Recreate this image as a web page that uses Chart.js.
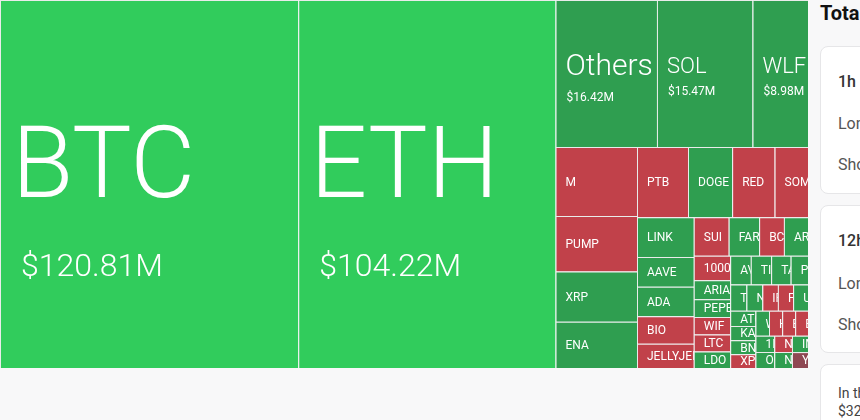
<!DOCTYPE html>
<html>
<head>
<meta charset="utf-8">
<script src="https://cdn.jsdelivr.net/npm/chart.js@4.4.1/dist/chart.umd.min.js"></script>
<style>
    body { margin: 0; width: 860px; height: 420px; overflow: hidden; background: #f8f8f9; font-family: Roboto, sans-serif; position: relative; }
    #wrap { position: absolute; left: 0; top: 0; width: 808px; height: 368px; }
    #side { position: absolute; left: 808px; top: 0; width: 52px; height: 420px; overflow: hidden; }
    .ttl { position: absolute; left: 12px; top: 2px; font-size: 20px; font-weight: 700; color: #111; white-space: nowrap; line-height: 22px; }
    .card { position: absolute; left: 12px; width: 300px; background: #fff; border: 1px solid #e6e6e8; border-radius: 8px; }
    .t { position: absolute; left: 17px; white-space: nowrap; line-height: 20px; font-size: 16px; color: #555; }
    .h { font-weight: 500; color: #333; }
    .s { font-size: 14px; color: #444; }
</style>
</head>
<body>
<div id="wrap"><canvas id="MapChart"></canvas></div>
<div id="side">
    <div class="ttl">Total Liquidations</div>
    <div class="card" style="top:46px;height:146px">
        <div class="t h" style="top:25px">1h</div>
        <div class="t" style="top:67px">Long</div>
        <div class="t" style="top:108px">Short</div>
    </div>
    <div class="card" style="top:205px;height:146px">
        <div class="t h" style="top:25px">12h</div>
        <div class="t" style="top:68px">Long</div>
        <div class="t" style="top:109px">Short</div>
    </div>
    <div class="card" style="top:364px;height:120px">
        <div class="t s" style="top:18px">In the past 24 hours</div>
        <div class="t s" style="top:36px" id="total"></div>
    </div>
</div>
<script>
// liquidations per coin, $M (largest first)
const coins = ['BTC', 'ETH', 'Others', 'SOL', 'WLFI', 'M', 'PUMP', 'XRP', 'ENA', 'PTB', 'DOGE', 'RED', 'SOMI',
    'LINK', 'AAVE', 'ADA', 'BIO', 'JELLYJELLY', 'SUI', 'FARTCOIN', 'BCH', 'ARB', '1000BONK', 'ARIA', 'PEPE', 'WIF',
    'LTC', 'LDO', 'AVAX', 'TIA', 'TAO', 'PENGU', 'TRX', 'NEAR', 'IP', 'FIL', 'UNI', 'ATOM', 'KAITO', 'BNB', 'XPL',
    'WLD', 'HYPE', 'ETC', 'BERA', '1INCH', 'OP', 'NEIRO', 'NMR', 'IMX', 'YGG'];
const liqValues = [120.81, 104.22, 16.42, 15.47, 8.98, 6.17, 4.98, 4.52, 4.14, 3.94, 3.41, 3.28, 2.58,
    2.48, 1.86, 1.85, 1.72, 1.51, 1.48, 1.29, 1.05, 1.02, 0.98, 0.76, 0.72, 0.70,
    0.68, 0.66, 0.655, 0.645, 0.62, 0.55, 0.47, 0.46, 0.45, 0.44, 0.43, 0.42, 0.40, 0.39, 0.38,
    0.37, 0.36, 0.355, 0.35, 0.34, 0.33, 0.32, 0.31, 0.29, 0.28];
// 2 strong long, 1 long, -1 short, -2 strong short
const sentiment = [2, 2, 1, 1, 1, -1, -1, 1, 1, -1, 1, -1, -1,
    1, 1, 1, -1, -1, -1, 1, -1, 1, -1, 1, 1, -1,
    -1, 1, 1, 1, 1, 1, 1, 1, -1, -1, 1, 1, 1, 1, -1,
    1, -1, -1, -1, 1, 1, -1, 1, 1, -2];

const colors = { '2': '#31cc5c', '1': '#2f9e50', '-1': '#c1414a', '-2': '#8f4853' };

// squarified layout with golden-ratio target (same rule echarts uses)
function worst(row, area, fixed, ratio) {
    let max = 0, min = Infinity;
    row.forEach(r => { if (r.area) { min = Math.min(min, r.area); max = Math.max(max, r.area); } });
    const sq = area * area, f = fixed * fixed * ratio;
    return sq ? Math.max(f * max / sq, sq / (f * min)) : Infinity;
}
function place(row, area, fixed, rect, flush, out) {
    const horiz = fixed === rect.width;
    let last = horiz ? rect.x : rect.y;
    let other = fixed ? area / fixed : 0;
    const avail = horiz ? rect.height : rect.width;
    if (flush || other > avail) other = avail;
    const end = horiz ? rect.x + rect.width : rect.y + rect.height;
    row.forEach((r, n) => {
        const step = other ? r.area / other : 0;
        const remain = end - last;
        const len = (n === row.length - 1 || remain < step) ? remain : step;
        out[r.i] = horiz ? { x: last, y: rect.y, w: len, h: other } : { x: rect.x, y: last, w: other, h: len };
        last += len;
    });
    if (horiz) { rect.y += other; rect.height -= other; } else { rect.x += other; rect.width -= other; }
}
function squarify(vals, W, H, ratio) {
    const total = vals.reduce((a, b) => a + b, 0);
    const items = vals.map((v, i) => ({ i: i, area: v / total * W * H })).sort((a, b) => b.area - a.area);
    const rect = { x: 0, y: 0, width: W, height: H };
    const out = [];
    let fixed = Math.min(W, H), best = Infinity, row = [], rowArea = 0;
    for (let k = 0; k < items.length;) {
        row.push(items[k]);
        rowArea += items[k].area;
        const score = worst(row, rowArea, fixed, ratio);
        if (score <= best) {
            k++;
            best = score;
        } else {
            rowArea -= row.pop().area;
            place(row, rowArea, fixed, rect, false, out);
            fixed = Math.min(rect.width, rect.height);
            row = [];
            rowArea = 0;
            best = Infinity;
        }
    }
    if (row.length) place(row, rowArea, fixed, rect, true, out);
    return out;
}

class TreemapController extends Chart.DatasetController {
    update(mode) {
        const meta = this._cachedMeta;
        this.updateElements(meta.data, 0, meta.data.length, mode);
    }
    updateElements(rects, start, count, mode) {
        const xs = this._cachedMeta.xScale, ys = this._cachedMeta.yScale;
        const boxes = squarify(this.getDataset().data, xs.width, ys.height, (1 + Math.sqrt(5)) / 2);
        for (let i = start; i < start + count; i++) {
            const b = boxes[i];
            const l = xs.getPixelForValue(b.x / xs.width * 100);
            const r = xs.getPixelForValue((b.x + b.w) / xs.width * 100);
            const t = ys.getPixelForValue(b.y / ys.height * 100);
            const bt = ys.getPixelForValue((b.y + b.h) / ys.height * 100);
            this.updateElement(rects[i], i, {
                x: (l + r) / 2, y: t, base: bt, width: r - l, height: bt - t,
                horizontal: false, inflateAmount: 0, enableBorderRadius: false,
                borderSkipped: { top: false, bottom: false, left: false, right: false },
                options: this.resolveDataElementOptions(i, mode)
            }, mode);
        }
    }
    draw() {
        super.draw();
        const ctx = this.chart.ctx;
        this._cachedMeta.data.forEach((el, i) => {
            const l = el.x - el.width / 2, t = el.y, w = el.width, h = el.base - el.y;
            const c = t + h / 2;
            const name = coins[i];
            const value = '$' + liqValues[i].toFixed(2) + 'M';
            ctx.save();
            ctx.beginPath();
            ctx.rect(l, t, w, h);
            ctx.clip();
            ctx.fillStyle = '#fff';
            ctx.textAlign = 'left';
            ctx.textBaseline = 'alphabetic';
            if (w * h > 50000) {
                ctx.font = '300 100px Roboto';
                ctx.fillText(name, l + 12, c + 13);
                ctx.font = '300 32px Roboto';
                ctx.fillText(value, l + 21, c + 92);
            } else if (w * h > 7000) {
                const f = name === 'Others' ? 30 : 22;
                ctx.font = '300 ' + f + 'px Roboto';
                ctx.fillText(name, l + 10, c + (f - 22) * 0.3 - 1);
                ctx.font = '12px Roboto';
                ctx.fillText(value, l + 11, c + 21 + (f - 22) * 0.8);
            } else {
                ctx.font = '12px Roboto';
                ctx.fillText(name, l + 10, c + 4.3);
            }
            ctx.restore();
        });
    }
}
TreemapController.id = 'treemap';
TreemapController.defaults = { datasetElementType: false, dataElementType: 'bar' };
Chart.register(TreemapController);

const mapCtx = document.getElementById('MapChart').getContext('2d');
const MapChart = new Chart(mapCtx, {
    type: 'treemap',
    data: {
        datasets: [{
            label: 'Liquidations $M',
            data: liqValues,
            backgroundColor: (c) => colors[sentiment[c.dataIndex]],
            borderColor: '#e9ecea',
            borderWidth: { top: 1, left: 1, right: 0, bottom: 0 }
        }]
    },
    options: {
        responsive: true,
        maintainAspectRatio: false,
        animation: false,
        events: [],
        layout: { padding: 0 },
        plugins: { legend: { display: false }, tooltip: { enabled: false } },
        scales: {
            x: { type: 'linear', min: 0, max: 100, display: false },
            y: { type: 'linear', min: 0, max: 100, reverse: true, display: false }
        }
    }
});

document.getElementById('total').textContent = '$' + liqValues.reduce((a, b) => a + b, 0).toFixed(2) + 'M';
</script>
</body>
</html>
